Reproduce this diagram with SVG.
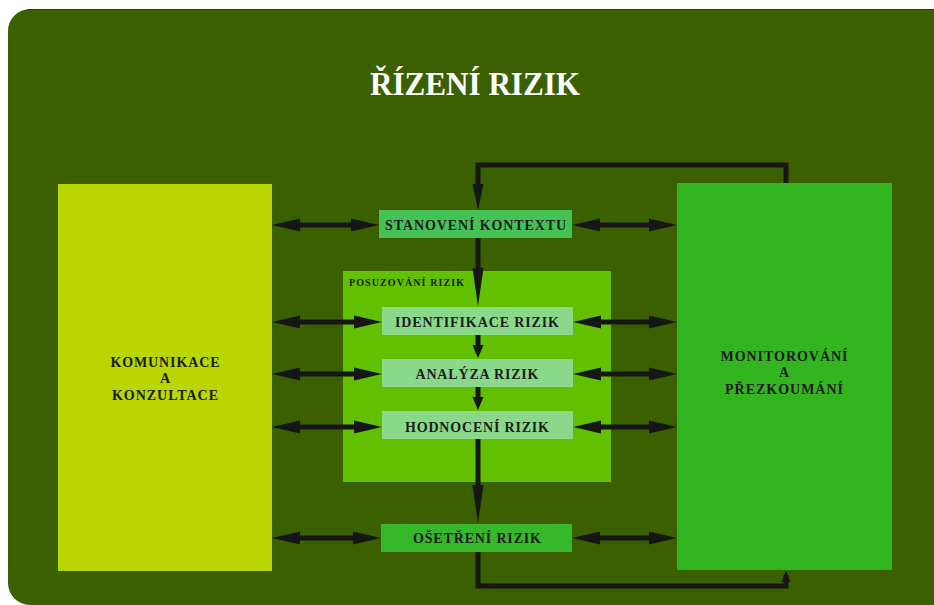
<svg xmlns="http://www.w3.org/2000/svg" xmlns:xlink="http://www.w3.org/1999/xlink" width="934" height="605" viewBox="0 0 934 605">
  <style>
    .lbl { font-family: "Liberation Serif", "Times New Roman", serif; font-weight: bold; fill: #1b1b1b; text-anchor: middle; }
    .box { font-size: 14px; }
    .big { font-size: 14px; }
    .small { font-size: 10px; text-anchor: start; }
    .title { font-family: "Liberation Serif", "Times New Roman", serif; font-weight: bold; font-size: 34px; fill: #ffffff; text-anchor: middle; }
    .wire { fill: none; stroke: #161616; stroke-width: 5; stroke-linejoin: miter; }
    .head { fill: #161616; }
    .step { fill: #8ad98a; }
  </style>
  <defs>
    <!-- arrowheads pointing along +x, tip at origin -->
    <path id="ahH" d="M0,0 L-28,-6.5 L-28,6.5 Z"/>
    <path id="ahLong" d="M0,0 L-38,-5.5 L-38,5.5 Z"/>
    <path id="ahMid" d="M0,0 L-26,-5.5 L-26,5.5 Z"/>
    <path id="ahShort" d="M0,0 L-13,-5.5 L-13,5.5 Z"/>
    <path id="ahTiny" d="M0,0 L-11,-4.5 L-11,4.5 Z"/>
  </defs>

  <!-- panel -->
  <rect x="8" y="9" width="960" height="596" rx="22" ry="22" fill="#3a6000"/>
  <line x1="28" y1="9.5" x2="934" y2="9.5" stroke="#2a2f22" stroke-width="1"/>

  <g id="title">
    <text class="title" x="475" y="95" textLength="210" lengthAdjust="spacingAndGlyphs">ŘÍZENÍ RIZIK</text>
  </g>

  <g id="komunikace">
    <rect x="58" y="184" width="214" height="387" fill="#b9d600"/>
    <text class="lbl big" x="165" y="367" textLength="109">KOMUNIKACE</text>
    <text class="lbl big" x="165" y="383">A</text>
    <text class="lbl big" x="165" y="400" textLength="106">KONZULTACE</text>
  </g>

  <g id="monitorovani">
    <rect x="677" y="183" width="215" height="387" fill="#32b51e"/>
    <text class="lbl big" x="784" y="361" textLength="127">MONITOROVÁNÍ</text>
    <text class="lbl big" x="784" y="377">A</text>
    <text class="lbl big" x="784" y="394" textLength="118">PŘEZKOUMÁNÍ</text>
  </g>

  <g id="posuzovani">
    <rect x="343" y="271" width="268" height="211" fill="#62c000"/>
    <text class="lbl small" x="349" y="286" textLength="115">POSUZOVÁNÍ RIZIK</text>
  </g>

  <g id="stanoveni">
    <rect x="379" y="210" width="193" height="28" fill="#46c156"/>
    <text class="lbl box" x="475.5" y="230" textLength="181">STANOVENÍ KONTEXTU</text>
  </g>

  <g id="identifikace">
    <rect class="step" x="382" y="307" width="191" height="28"/>
    <text class="lbl box" x="477" y="327" textLength="164">IDENTIFIKACE RIZIK</text>
  </g>

  <g id="analyza">
    <rect class="step" x="382" y="359" width="191" height="28"/>
    <text class="lbl box" x="477" y="379" textLength="123">ANALÝZA RIZIK</text>
  </g>

  <g id="hodnoceni">
    <rect class="step" x="382" y="411" width="191" height="28"/>
    <text class="lbl box" x="477" y="432" textLength="144">HODNOCENÍ RIZIK</text>
  </g>

  <g id="osetreni">
    <rect x="381" y="524" width="191" height="28" fill="#36b82a"/>
    <text class="lbl box" x="477" y="543" textLength="128">OŠETŘENÍ RIZIK</text>
  </g>

  <g id="connectors">
    <!-- feedback loop from monitoring back to context -->
    <polyline class="wire" points="786,183 786,165 478,165 478,190"/>
    <use xlink:href="#ahMid" class="head" transform="translate(478,210) rotate(90)"/>

    <!-- main vertical flow -->
    <line class="wire" x1="478" y1="238" x2="478" y2="272"/>
    <use xlink:href="#ahLong" class="head" transform="translate(478,306) rotate(90)"/>
    <line class="wire" x1="478" y1="335" x2="478" y2="348"/>
    <use xlink:href="#ahShort" class="head" transform="translate(478,358) rotate(90)"/>
    <line class="wire" x1="478" y1="387" x2="478" y2="400"/>
    <use xlink:href="#ahShort" class="head" transform="translate(478,410) rotate(90)"/>
    <line class="wire" x1="478" y1="439" x2="478" y2="490"/>
    <use xlink:href="#ahLong" class="head" transform="translate(478,523) rotate(90)"/>

    <!-- treatment output to monitoring -->
    <polyline class="wire" points="478,552 478,586 786,586 786,575"/>
    <use xlink:href="#ahTiny" class="head" transform="translate(786,571) rotate(-90)"/>

    <!-- communication links (left) -->
    <g>
      <line class="wire" x1="290" y1="225" x2="360" y2="225"/>
      <use xlink:href="#ahH" class="head" transform="translate(272,225) rotate(180)"/>
      <use xlink:href="#ahH" class="head" transform="translate(379,225)"/>

      <line class="wire" x1="290" y1="322" x2="362" y2="322"/>
      <use xlink:href="#ahH" class="head" transform="translate(272,322) rotate(180)"/>
      <use xlink:href="#ahH" class="head" transform="translate(382,322)"/>

      <line class="wire" x1="290" y1="374" x2="362" y2="374"/>
      <use xlink:href="#ahH" class="head" transform="translate(272,374) rotate(180)"/>
      <use xlink:href="#ahH" class="head" transform="translate(382,374)"/>

      <line class="wire" x1="290" y1="427" x2="362" y2="427"/>
      <use xlink:href="#ahH" class="head" transform="translate(272,427) rotate(180)"/>
      <use xlink:href="#ahH" class="head" transform="translate(382,427)"/>

      <line class="wire" x1="290" y1="538" x2="362" y2="538"/>
      <use xlink:href="#ahH" class="head" transform="translate(272,538) rotate(180)"/>
      <use xlink:href="#ahH" class="head" transform="translate(381,538)"/>
    </g>

    <!-- monitoring links (right) -->
    <g>
      <line class="wire" x1="590" y1="225" x2="660" y2="225"/>
      <use xlink:href="#ahH" class="head" transform="translate(572,225) rotate(180)"/>
      <use xlink:href="#ahH" class="head" transform="translate(677,225)"/>

      <line class="wire" x1="590" y1="322" x2="660" y2="322"/>
      <use xlink:href="#ahH" class="head" transform="translate(573,322) rotate(180)"/>
      <use xlink:href="#ahH" class="head" transform="translate(677,322)"/>

      <line class="wire" x1="590" y1="374" x2="660" y2="374"/>
      <use xlink:href="#ahH" class="head" transform="translate(573,374) rotate(180)"/>
      <use xlink:href="#ahH" class="head" transform="translate(677,374)"/>

      <line class="wire" x1="590" y1="427" x2="660" y2="427"/>
      <use xlink:href="#ahH" class="head" transform="translate(573,427) rotate(180)"/>
      <use xlink:href="#ahH" class="head" transform="translate(677,427)"/>

      <line class="wire" x1="590" y1="538" x2="660" y2="538"/>
      <use xlink:href="#ahH" class="head" transform="translate(572,538) rotate(180)"/>
      <use xlink:href="#ahH" class="head" transform="translate(677,538)"/>
    </g>
  </g>
</svg>
